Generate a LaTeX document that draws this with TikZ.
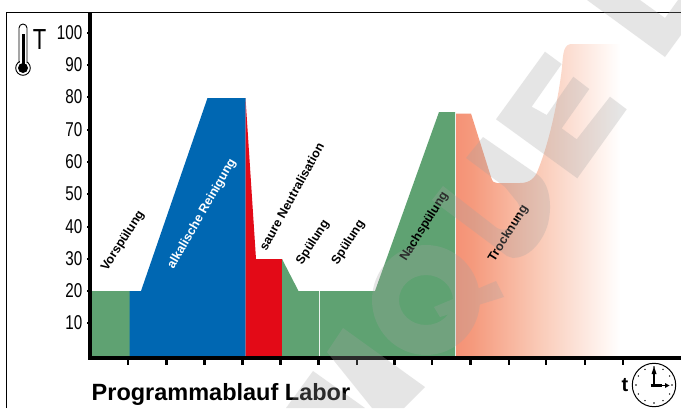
\documentclass[tikz,border=0pt]{standalone}
\usepackage{fontspec}
\setmainfont{Liberation Sans}
\usetikzlibrary{calc}
\definecolor{prgreen}{HTML}{5FA272}
\definecolor{prblue}{HTML}{0067B2}
\definecolor{prred}{HTML}{E30A17}
\definecolor{prorA}{HTML}{F59276}
\definecolor{prorA2}{HTML}{F59A7D}
\definecolor{prorB}{HTML}{FACBB8}
\definecolor{prorC}{HTML}{FCE0D5}
\definecolor{prorD}{HTML}{FFF6F2}
\definecolor{wmgray}{HTML}{A2A2A2}
\pgfdeclarehorizontalshading{prfade}{100bp}{color(0bp)=(prorA); color(25bp)=(prorA); color(30bp)=(prorA2); color(50.6bp)=(prorB); color(60.7bp)=(prorC); color(70.7bp)=(prorD); color(75bp)=(white); color(100bp)=(white)}
\tikzset{
  phase/.style={font=\fontsize{12.5}{14}\selectfont\bfseries, inner sep=0pt, text=black},
  ylab/.style={font=\fontsize{20}{22}\selectfont, inner sep=0pt, anchor=east, xscale=.76},
  axisline/.style={line width=3.2pt, black},
  tickmark/.style={line width=2.4pt, black},
  frameline/.style={line width=1pt, black}
}
\begin{document}
\begin{tikzpicture}[x=1pt,y=-1pt]
\useasboundingbox (0,0) rectangle (681,408);
\fill[white] (0,0) rectangle (681,408);
% frame
\draw[frameline] (6.5,408) -- (6.5,12.5) -- (681,12.5);
% phases
\fill[prgreen] (92,291) -- (129.5,291) -- (129.5,357) -- (92,357) -- cycle;
\fill[prblue] (129.5,291) -- (141,291) -- (207.5,98) -- (245.5,98) -- (245.5,357) -- (129.5,357) -- cycle;
\fill[prred] (245.5,98) -- (256,259) -- (282,259) -- (282,357) -- (245.5,357) -- cycle;
\fill[prgreen] (282,259) -- (298.5,291) -- (319,291) -- (319,357) -- (282,357) -- cycle;
\fill[prgreen] (320,291) -- (375,291) -- (439,112) -- (455,112) -- (455,357) -- (320,357) -- cycle;
\shade[shading=prfade] (456,113.5) -- (471,113.5) -- (491,177) .. controls (492.5,182) and (494,183) .. (497,183)
  -- (520,183) .. controls (530,183) and (535,178) .. (538,170)
  .. controls (550,140) and (558,100) .. (562,68)
  .. controls (563,52) and (564,44) .. (572,44) -- (620,44) -- (620,357) -- (456,357) -- cycle;
% labels
\node[phase] (vor) at (123,241) [rotate=57] {Vorspülung};
\node[phase,text=white] (alk) at (202,214) [rotate=60] {alkalische Reinigung};
\node[phase] (neu) at (291.5,196.5) [rotate=61] {saure Neutralisation};
\node[phase] (sp1) at (313,242.5) [rotate=57] {Spülung};
\node[phase] (sp2) at (348.5,242.5) [rotate=57] {Spülung};
\node[phase] (nach) at (424.5,226.5) [rotate=58] {Nachspülung};
\node[phase] (tro) at (508.5,233.5) [rotate=58] {Trocknung};
% axes
\draw[axisline] (90,12) -- (90,359.5);
\draw[axisline] (88.4,358) -- (681,358);
\foreach \tx in {128,166.5,204.5,242.5,280.5,318.5,357,394.5,432,470.5,509,546,585,623}
  \draw[tickmark] (\tx,358) -- (\tx,364.5);
\foreach \ty/\tl in {323/10,291/20,259/30,227/40,194/50,162/60,130/70,97/80,65/90,33/100}{
  \draw[line width=1.6pt] (87,\ty) -- (90,\ty);
  \node[ylab] (y\tl) at (82.5,\ty) {\tl};
}
% thermometer
\draw[line width=.9pt,fill=white] (23,68) circle[radius=7.3pt];
\fill[white] (19.5,28) rectangle (26.5,63);
\draw[line width=.9pt] (19,63) -- (19,28) arc[start angle=180,end angle=0,radius=4pt] -- (27,63);
\fill[black] (21.5,34) rectangle (24.5,66);
\fill[black] (23,68) circle[radius=5pt];
\node[inner sep=0pt,font=\fontsize{29}{30}\selectfont,xscale=.76] (tlabel) at (39.5,39.5) {T};
% title
\node[inner sep=0pt,anchor=base west,font=\fontsize{23.5}{25}\selectfont\bfseries] (title) at (91.5,400.5) {Programmablauf Labor};
% clock
\node[inner sep=0pt,font=\fontsize{20}{22}\selectfont\bfseries] (tt) at (625,385) {t};
\draw[line width=1pt,fill=white] (654,385) circle[radius=21.7pt];
\foreach \a in {0,30,...,330}
  \fill[black] ($(654,385)+(\a:18pt)$) circle[radius=.8pt];
\draw[line width=2.6pt] (654,387) -- (654,372);
\fill (654,366.5) -- (656.5,374) -- (651.5,374) -- cycle;
\draw[line width=2.6pt] (650.5,385.5) -- (662,385.5);
\draw[line width=1pt] (662,385.5) -- (666,385.5);
\fill (669.5,385.5) -- (665,383) -- (665,388) -- cycle;
% watermark
\begin{scope}[transparency group,opacity=.27]
 \fill[wmgray] (587,0) -- (665,57) -- (681,35) -- (681,0) -- (678,0) -- (665,18) -- (640,0) -- cycle;
 \fill[wmgray] (496,119.3) -- (545,51.7) -- (561.7,64) -- (531.7,106.7) -- (546.7,115) -- (573.3,76.7) -- (589.3,89) -- (561.7,128.3) -- (576.7,139.3) -- (610,96.7) -- (626.7,109.3) -- (577.3,178.3) -- cycle;
 \fill[wmgray] (483,137) -- (538,175) .. controls (552,186) and (552,212) .. (547,227)
   .. controls (541,244) and (528,258) .. (513,258) -- (507,256) -- (432,200) -- (443,186) -- (497,228)
   .. controls (512,236) and (526,214) .. (518,203) -- (505,187) -- (466,158) -- cycle;
 \fill[wmgray,even odd rule] (426,300) ellipse[x radius=54pt,y radius=55pt] (426,300) ellipse[x radius=27pt,y radius=25pt];
 \fill[wmgray] (434,307) -- (496,281) -- (504,297) -- (440,317) -- cycle;
 \fill[wmgray] (343,328) -- (425,387) -- (404,408) -- (372,408) -- (327,352) -- cycle;
 \fill[wmgray] (313,371) -- (365,408) -- (286,408) -- cycle;
\end{scope}
\end{tikzpicture}
\end{document}
